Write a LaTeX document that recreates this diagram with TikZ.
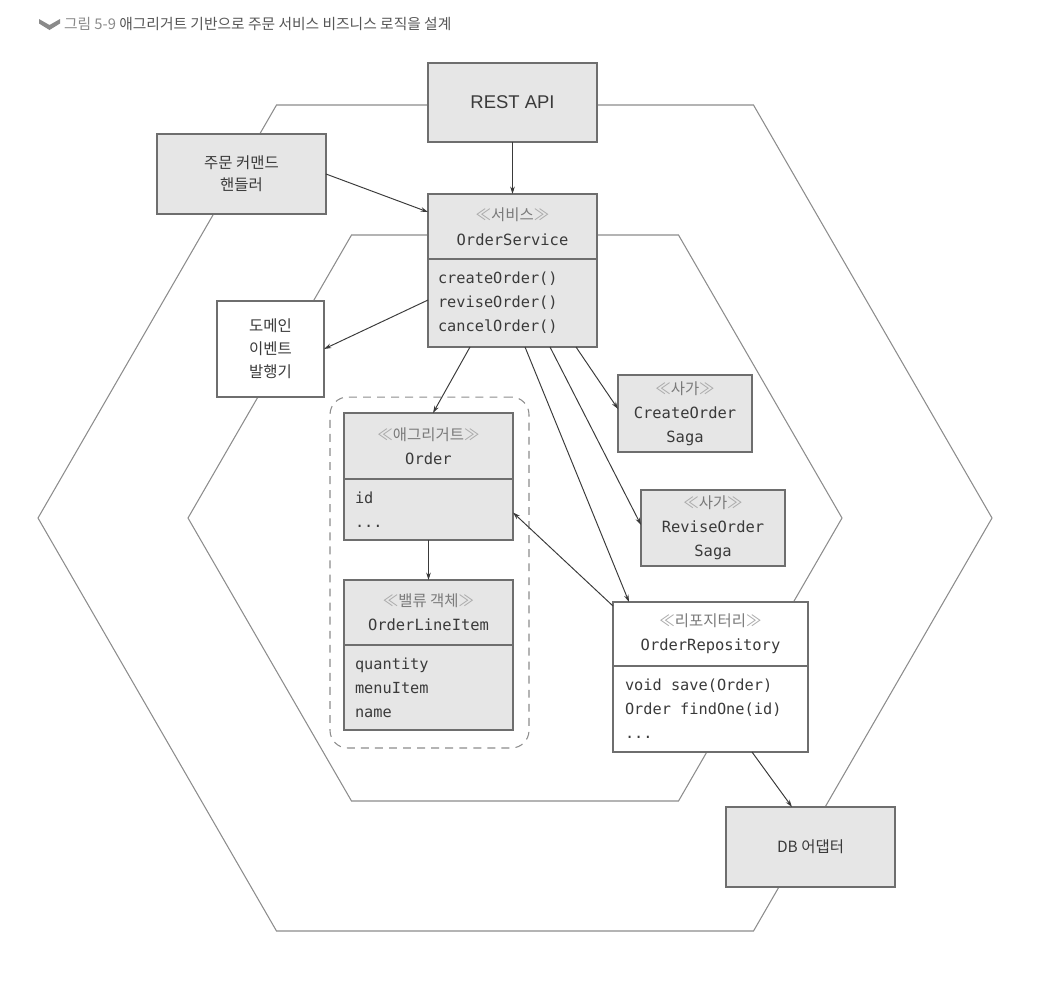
\documentclass[tikz,border=0pt]{standalone}
\usepackage{fontspec}
\setmainfont{Noto Sans CJK KR}
\setmonofont{DejaVu Sans Mono}
\newfontfamily\latinsans{Liberation Sans}
\usetikzlibrary{arrows.meta,calc}
\definecolor{boxfill}{HTML}{E6E6E6}
\definecolor{edge}{HTML}{6E6E6E}
\definecolor{hexline}{HTML}{8C8C8C}
\definecolor{ink}{HTML}{3A3A3A}
\definecolor{stereo}{HTML}{7A7A7A}
\definecolor{guil}{HTML}{AAAAAA}
\definecolor{titlegray}{HTML}{555555}
\definecolor{titlelight}{HTML}{8A8A8A}
\newcommand{\stereotype}[1]{{\color{guil}≪}{\color{stereo}#1}{\color{guil}≫}}
\newcommand{\msp}{\hspace*{0.602em}}
\begin{document}
\begin{tikzpicture}[x=0.02cm,y=-0.02cm,
  every node/.style={outer sep=0pt, text=ink},
  box/.style={draw=edge, line width=0.7pt, fill=boxfill, inner sep=0pt, align=center, font=\fontsize{8.8}{13.6}\selectfont},
  wbox/.style={box, fill=white},
  body/.style={box, align=left, inner xsep=0.2cm, inner ysep=0pt, font=\ttfamily\fontsize{8.7}{13.6}\selectfont},
  hex/.style={draw=hexline, line width=0.6pt, line join=miter},
  grpbox/.style={draw=hexline, line width=0.6pt, dash pattern=on 4.5pt off 3.5pt, rounded corners=0.35cm, inner sep=0pt},
  conn/.style={draw=ink, line width=0.55pt, -{Stealth[length=4.2pt,width=2.6pt]}},
]
\useasboundingbox (0,0) rectangle (1057,995);

% title
\fill[titlelight] (39,19) -- (49.5,25) -- (60,19) -- (60,23.5) -- (49.5,30) -- (39,23.5) -- cycle;
\node[anchor=west, text=titlegray, font=\fontsize{8.4}{10}\selectfont, inner sep=0pt] (title) at (64,24) {{\color{titlelight}그림 5-9} 애그리거트 기반으로 주문 서비스 비즈니스 로직을 설계};

% hexagons
\draw[hex] (276.5,105) -- (753.5,105) -- (992,518) -- (753.5,931) -- (276.5,931) -- (38,518) -- cycle;
\draw[hex] (351.5,235) -- (678.5,235) -- (842,518) -- (678.5,801) -- (351.5,801) -- (188,518) -- cycle;

% nodes
\node[box, minimum width=3.38cm, minimum height=1.58cm, font=\latinsans\fontsize{10.5}{13}\selectfont] (rest) at (512.5,102.5) {REST API};
\node[box, minimum width=3.38cm, minimum height=1.6cm, font=\fontsize{8.8}{12.6}\selectfont] (handler) at (241.5,174) {주문 커맨드\\핸들러};
\node[box, minimum width=3.38cm, minimum height=1.3cm, font=\fontsize{8.8}{14.5}\selectfont] (svchead) at (512.5,226.5) {\stereotype{서비스}\\\texttt{OrderService}};
\node[body, text width=2.98cm, minimum height=1.76cm] (svcbody) at (512.5,303) {createOrder()\\reviseOrder()\\cancelOrder()};
\node[wbox, minimum width=2.14cm, minimum height=1.92cm, font=\fontsize{8.8}{13}\selectfont] (pub) at (270.5,349) {도메인\\이벤트\\발행기};

\node[grpbox, minimum width=3.98cm, minimum height=7.02cm] (grp) at (429.5,572.5) {};
\node[box, minimum width=3.38cm, minimum height=1.32cm] (ordhead) at (428.5,446) {\stereotype{애그리거트}\\\texttt{Order}};
\node[body, text width=2.94cm, inner xsep=0.22cm, minimum height=1.22cm] (ordbody) at (428.5,509.5) {id\\...};
\node[box, minimum width=3.38cm, minimum height=1.3cm] (olihead) at (428.5,612.5) {\stereotype{밸류 객체}\\\texttt{OrderLineItem}};
\node[body, text width=2.94cm, inner xsep=0.22cm, minimum height=1.7cm] (olibody) at (428.5,687.5) {quantity\\menuItem\\name};

\node[box, minimum width=2.68cm, minimum height=1.54cm] (saga1) at (685,413.5) {\stereotype{사가}\\\texttt{CreateOrder}\\\texttt{Saga}};
\node[box, minimum width=2.88cm, minimum height=1.52cm] (saga2) at (713,528) {\stereotype{사가}\\\texttt{ReviseOrder}\\\texttt{Saga}};

\node[wbox, minimum width=3.9cm, minimum height=1.28cm] (repohead) at (710.5,634) {\stereotype{리포지터리}\\\texttt{OrderRepository}};
\node[body, fill=white, text width=3.42cm, inner xsep=0.24cm, minimum height=1.72cm] (repobody) at (710.5,709) {void\msp save(Order)\\Order\msp findOne(id)\\...};

\node[box, minimum width=3.38cm, minimum height=1.6cm] (db) at (810.5,847) {DB 어댑터};

% connectors
\draw[conn] (rest.south) -- (svchead.north);
\draw[conn] (handler.east) -- ($(svchead.west)+(0,-14.5)$);
\draw[conn] ($(svcbody.west)+(0,-3)$) -- (pub.east);
\draw[conn] ($(svcbody.south)+(-42.5,0)$) -- ($(ordhead.north)+(4.5,0)$);
\draw[conn] ($(svcbody.south)+(63.5,0)$) -- ($(saga1.west)+(0,-4.5)$);
\draw[conn] ($(svcbody.south)+(37.5,0)$) -- ($(saga2.west)+(0,-3)$);
\draw[conn] ($(svcbody.south)+(12.5,0)$) -- ($(repohead.north west)+(16,0)$);
\draw[conn] ($(repohead.north west)+(0,4)$) -- ($(ordbody.east)+(0,3)$);
\draw[conn] (ordbody.south) -- (olihead.north);
\draw[conn] ($(repobody.south)+(41.5,0)$) -- ($(db.north)+(-18.5,0)$);
\end{tikzpicture}
\end{document}
